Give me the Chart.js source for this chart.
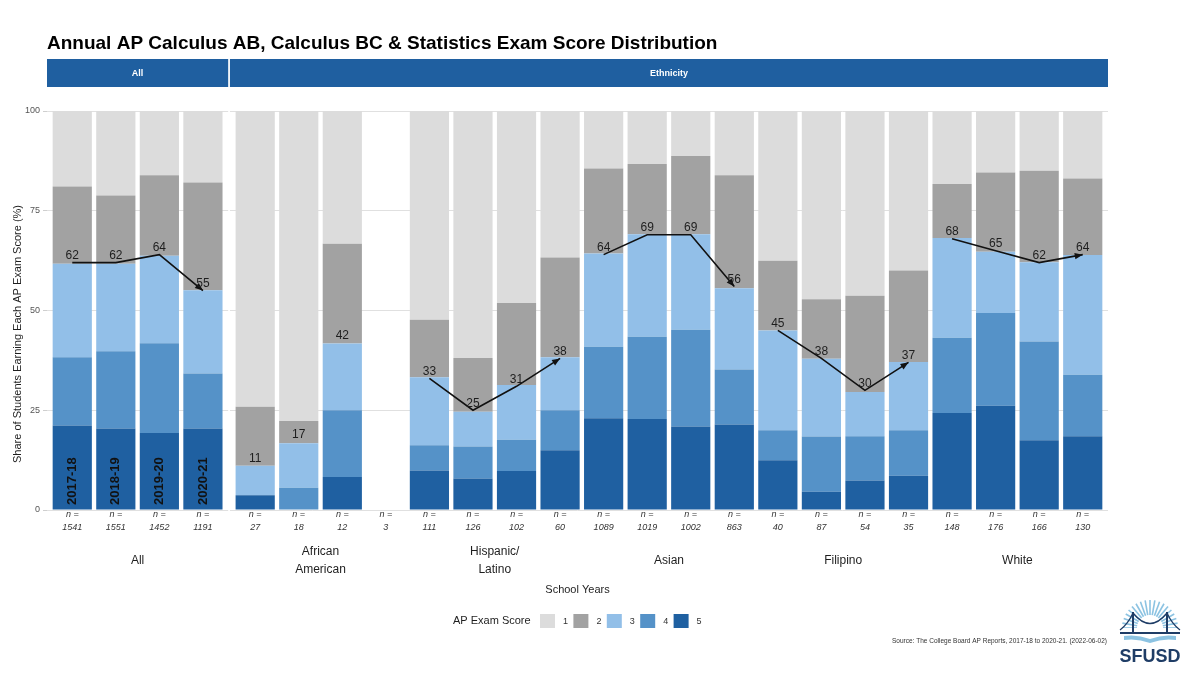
<!DOCTYPE html>
<html>
<head>
<meta charset="utf-8">
<script src="https://cdn.jsdelivr.net/npm/chart.js@4"></script>
<style>
html,body{margin:0;padding:0;background:#fff;}
#wrap{width:1200px;height:674px;position:relative;}
</style>
</head>
<body>
<div id="wrap"><canvas id="c" width="1200" height="674"></canvas></div>
<script>
// ---------------- DATA ----------------
const years = ['2017-18', '2018-19', '2019-20', '2020-21'];
const groupNames = ['All', 'African American', 'Hispanic/ Latino', 'Asian', 'Filipino', 'White'];
const groupLabels = [['All'], ['African', 'American'], ['Hispanic/', 'Latino'], ['Asian'], ['Filipino'], ['White']];
const groupHasTrend = [true, false, true, true, true, true];
const nCounts = [1541, 1551, 1452, 1191, 27, 18, 12, 3, 111, 126, 102, 60, 1089, 1019, 1002, 863, 40, 87, 54, 35, 148, 176, 166, 130];

// Share (%) of students earning each score, per bar (group x year)
const score5 = [21.2, 20.4, 19.3, 20.4, 3.7, 0, 8.3, null, 9.9, 7.9, 9.8, 15.0, 23.0, 22.8, 20.9, 21.4, 12.5, 4.6, 7.4, 8.6, 24.3, 26.1, 17.5, 18.5];
const score4 = [17.1, 19.4, 22.5, 13.8, 0, 5.6, 16.7, null, 6.3, 8.0, 7.8, 10.0, 17.9, 20.6, 24.3, 13.8, 7.5, 13.8, 11.1, 11.4, 18.9, 23.3, 24.7, 15.4];
const score3 = [23.4, 21.9, 21.9, 20.9, 7.4, 11.1, 16.7, null, 17.1, 8.7, 13.7, 13.3, 23.4, 25.7, 23.9, 20.4, 25.0, 19.5, 11.1, 17.1, 25.0, 15.3, 19.9, 30.0];
const score2 = [19.4, 17.1, 20.2, 27.0, 14.8, 5.6, 25.0, null, 14.4, 13.5, 20.6, 25.0, 21.3, 17.6, 19.6, 28.3, 17.5, 14.9, 24.1, 22.9, 13.5, 19.9, 22.9, 19.2];
const score1 = [18.9, 21.2, 16.1, 17.9, 74.1, 77.8, 33.3, null, 52.3, 61.9, 48.0, 36.7, 14.4, 13.3, 11.3, 16.1, 37.5, 47.1, 46.3, 40.0, 18.2, 15.3, 15.1, 16.9];
// Share earning 3 or higher (labels / trend line)
const passRate = [62, 62, 64, 55, 11, 17, 42, null, 33, 25, 31, 38, 64, 69, 69, 56, 45, 38, 30, 37, 68, 65, 62, 64];

const scoreNames = ['1', '2', '3', '4', '5'];
const scoreColors = ['#dcdcdc', '#a2a2a2', '#92bfe8', '#5592c8', '#1f60a1'];

// ---------------- LAYOUT HELPERS ----------------
const PANEL_PAD = 0.58, PANEL_GAP = 0.04;
const nBars = nCounts.length;
function xPos(i) {
  const g = Math.floor(i / 4), j = i % 4;
  return g === 0 ? j : 3 + 2 * PANEL_PAD + PANEL_GAP + (g - 1) * 4 + j;
}
const positions = nCounts.map((_, i) => xPos(i));
const X_MIN = -PANEL_PAD;
const X_MAX = positions[nBars - 1] + PANEL_PAD;
const groupCenters = groupNames.map((_, g) => (xPos(g * 4) + xPos(g * 4 + 3)) / 2);

const toPts = arr => arr.map((v, i) => ({ x: positions[i], y: v }));

const trendPts = [];
for (let g = 0; g < groupNames.length; g++) {
  if (!groupHasTrend[g]) continue;
  for (let j = 0; j < 4; j++) {
    const i = g * 4 + j;
    if (passRate[i] != null) trendPts.push({ x: positions[i], y: passRate[i] });
  }
  trendPts.push({ x: positions[g * 4 + 3] + 0.5, y: null });
}

const FONT = "'Liberation Sans', Arial, Helvetica, sans-serif";

const barSets = [
  { label: '5', data: toPts(score5), backgroundColor: scoreColors[4] },
  { label: '4', data: toPts(score4), backgroundColor: scoreColors[3] },
  { label: '3', data: toPts(score3), backgroundColor: scoreColors[2] },
  { label: '2', data: toPts(score2), backgroundColor: scoreColors[1] },
  { label: '1', data: toPts(score1), backgroundColor: scoreColors[0] }
].map(d => Object.assign(d, { type: 'bar', order: 1, borderWidth: 0, barPercentage: 0.9, categoryPercentage: 1.0 }));

const trendSet = {
  type: 'line', label: 'trend', data: trendPts, order: 0, stack: 'trend',
  borderColor: '#111', borderWidth: 1.6, pointRadius: 0, spanGaps: false, tension: 0, fill: false
};

// ---------------- PLUGIN (decor) ----------------
const decor = {
  id: 'decor',
  beforeDraw(chart) {
    const ctx = chart.ctx;
    ctx.save();
    ctx.fillStyle = '#fff';
    ctx.fillRect(0, 0, chart.width, chart.height);
    ctx.restore();
  },
  beforeDatasetsDraw(chart) {
    const x = chart.scales.x, a = chart.chartArea, ctx = chart.ctx;
    const l = x.getPixelForValue(3 + PANEL_PAD), r = x.getPixelForValue(3 + PANEL_PAD + PANEL_GAP);
    ctx.save();
    ctx.fillStyle = '#fff';
    ctx.fillRect(l, a.top - 2, r - l, a.bottom - a.top + 4);
    ctx.restore();
  },
  afterDatasetsDraw(chart) {
    const ctx = chart.ctx, xs = chart.scales.x, ys = chart.scales.y;
    ctx.save();
    for (let g = 0; g < groupNames.length; g++) {
      if (!groupHasTrend[g]) continue;
      const i2 = g * 4 + 3, i1 = g * 4 + 2;
      const x2 = xs.getPixelForValue(positions[i2]), y2 = ys.getPixelForValue(passRate[i2]);
      const x1 = xs.getPixelForValue(positions[i1]), y1 = ys.getPixelForValue(passRate[i1]);
      const ang = Math.atan2(y2 - y1, x2 - x1), L = 8, W = 3.2;
      ctx.fillStyle = '#111';
      ctx.beginPath();
      ctx.moveTo(x2, y2);
      ctx.lineTo(x2 - L * Math.cos(ang) + W * Math.sin(ang), y2 - L * Math.sin(ang) - W * Math.cos(ang));
      ctx.lineTo(x2 - L * Math.cos(ang) - W * Math.sin(ang), y2 - L * Math.sin(ang) + W * Math.cos(ang));
      ctx.closePath();
      ctx.fill();
    }
    ctx.font = '12px ' + FONT;
    ctx.fillStyle = '#1e1e1e';
    ctx.textAlign = 'center';
    ctx.textBaseline = 'middle';
    passRate.forEach((v, i) => {
      if (v == null) return;
      ctx.fillText(String(v), xs.getPixelForValue(positions[i]), ys.getPixelForValue(v) - 7);
    });
    ctx.font = 'bold 13px ' + FONT;
    ctx.fillStyle = '#111';
    ctx.textAlign = 'left';
    for (let j = 0; j < 4; j++) {
      ctx.save();
      ctx.translate(xs.getPixelForValue(positions[j]), ys.getPixelForValue(0) - 5);
      ctx.rotate(-Math.PI / 2);
      ctx.fillText(years[j], 0, 0);
      ctx.restore();
    }
    ctx.restore();
  },
  afterDraw(chart) {
    const ctx = chart.ctx, xs = chart.scales.x, a = chart.chartArea;
    ctx.save();
    ctx.fillStyle = '#000';
    ctx.font = 'bold 19px ' + FONT;
    ctx.textAlign = 'left';
    ctx.textBaseline = 'alphabetic';
    ctx.fillText('Annual AP Calculus AB, Calculus BC & Statistics Exam Score Distribution', 47, 49);
    const allL = a.left, allR = xs.getPixelForValue(3 + PANEL_PAD);
    const ethL = xs.getPixelForValue(3 + PANEL_PAD + PANEL_GAP), ethR = a.right;
    ctx.fillStyle = '#1f5fa0';
    ctx.fillRect(allL, 59, allR - allL, 28);
    ctx.fillRect(ethL, 59, ethR - ethL, 28);
    ctx.fillStyle = '#fff';
    ctx.font = 'bold 9px ' + FONT;
    ctx.textAlign = 'center';
    ctx.textBaseline = 'middle';
    ctx.fillText('All', (allL + allR) / 2, 73.5);
    ctx.fillText('Ethnicity', (ethL + ethR) / 2, 73.5);
    ctx.save();
    ctx.translate(18, 334);
    ctx.rotate(-Math.PI / 2);
    ctx.fillStyle = '#1e1e1e';
    ctx.font = '11px ' + FONT;
    ctx.fillText('Share of Students Earning Each AP Exam Score (%)', 0, 0);
    ctx.restore();
    ctx.textAlign = 'left';
    ctx.textBaseline = 'middle';
    ctx.fillStyle = '#1e1e1e';
    ctx.font = '11px ' + FONT;
    ctx.fillText('AP Exam Score', 453, 621);
    ctx.font = '9px ' + FONT;
    scoreNames.forEach((s, k) => {
      const bx = 540 + k * 33.4;
      ctx.fillStyle = scoreColors[k];
      ctx.fillRect(bx, 614, 15, 14);
      ctx.fillStyle = '#333';
      ctx.fillText(s, bx + 23, 621.5);
    });
    ctx.font = '6.5px ' + FONT;
    ctx.textAlign = 'right';
    ctx.fillStyle = '#333';
    ctx.fillText('Source: The College Board AP Reports, 2017-18 to 2020-21. (2022-06-02)', 1107, 641);
    const cx = 1150, cy = 628;
    ctx.strokeStyle = '#8cc3e2';
    ctx.lineWidth = 1.6;
    for (let k = 0; k <= 18; k++) {
      const t = Math.PI + (k / 18) * Math.PI;
      ctx.beginPath();
      ctx.moveTo(cx + Math.cos(t) * 13, cy + Math.sin(t) * 13);
      ctx.lineTo(cx + Math.cos(t) * 28, cy + Math.sin(t) * 28);
      ctx.stroke();
    }
    ctx.fillStyle = '#fff';
    ctx.beginPath(); ctx.arc(cx, cy, 12, Math.PI, 2 * Math.PI); ctx.fill();
    ctx.fillRect(1118, cy, 66, 20);
    ctx.strokeStyle = '#1f3d66';
    ctx.lineWidth = 2;
    ctx.beginPath();
    ctx.moveTo(1133, 612); ctx.lineTo(1133, 634);
    ctx.moveTo(1167, 612); ctx.lineTo(1167, 634);
    ctx.stroke();
    ctx.lineWidth = 1.3;
    ctx.beginPath();
    ctx.moveTo(1120, 630); ctx.quadraticCurveTo(1128, 624, 1133, 613);
    ctx.quadraticCurveTo(1150, 634, 1167, 613);
    ctx.quadraticCurveTo(1172, 624, 1180, 630);
    ctx.stroke();
    ctx.lineWidth = 2;
    ctx.beginPath(); ctx.moveTo(1120, 633); ctx.lineTo(1180, 633); ctx.stroke();
    ctx.fillStyle = '#8cc3e2';
    ctx.beginPath();
    ctx.moveTo(1124, 636); ctx.quadraticCurveTo(1137, 634, 1150, 639);
    ctx.quadraticCurveTo(1163, 634, 1176, 636); ctx.lineTo(1176, 640);
    ctx.quadraticCurveTo(1163, 638, 1150, 643); ctx.quadraticCurveTo(1137, 638, 1124, 640);
    ctx.closePath(); ctx.fill();
    ctx.fillStyle = '#1f3d66';
    ctx.font = 'bold 18px ' + FONT;
    ctx.textAlign = 'center';
    ctx.textBaseline = 'alphabetic';
    ctx.fillText('SFUSD', 1150, 662);
    ctx.restore();
  }
};

// ---------------- CHART ----------------
new Chart(document.getElementById('c'), {
  data: { datasets: [...barSets, trendSet] },
  options: {
    responsive: false,
    animation: false,
    devicePixelRatio: 1,
    layout: { padding: { top: 111, left: 5, right: 92, bottom: 74 } },
    plugins: { legend: { display: false }, tooltip: { enabled: false }, title: { display: false } },
    scales: {
      x: {
        type: 'linear', stacked: true, offset: false, min: X_MIN, max: X_MAX, position: 'bottom', weight: 0,
        grid: { display: false, drawTicks: false, offset: false }, border: { display: false },
        afterBuildTicks: s => { s.ticks = positions.map(v => ({ value: v })); },
        afterFit: s => { s.height = 34; },
        ticks: {
          autoSkip: false, maxRotation: 0, minRotation: 0, padding: -2,
          color: '#333', font: { family: FONT, size: 9, style: 'italic', lineHeight: 1.45 },
          callback: (v, i) => ['n =', String(nCounts[i])]
        }
      },
      x2: {
        type: 'linear', offset: false, min: X_MIN, max: X_MAX, position: 'bottom', weight: 1,
        grid: { display: false, drawTicks: false, offset: false }, border: { display: false },
        afterBuildTicks: s => { s.ticks = groupCenters.map(v => ({ value: v })); },
        afterFit: s => { s.height = 56; },
        ticks: {
          autoSkip: false, maxRotation: 0, minRotation: 0, padding: 8, crossAlign: 'center',
          color: '#1e1e1e', font: { family: FONT, size: 12, lineHeight: 1.5 },
          callback: (v, i) => groupLabels[i]
        },
        title: { display: true, text: 'School Years', color: '#1e1e1e', font: { family: FONT, size: 11 }, padding: { top: 0, bottom: 3 } }
      },
      y: {
        stacked: true, min: 0, max: 100,
        afterFit: s => { s.width = 42; },
        grid: { color: '#e0e0e0', lineWidth: 1, tickLength: 4, tickColor: '#cfcfcf' },
        border: { display: false },
        ticks: { stepSize: 25, padding: 3, color: '#555', font: { family: FONT, size: 9 } },
        title: { display: false }
      }
    }
  },
  plugins: [decor]
});
</script>
</body>
</html>
